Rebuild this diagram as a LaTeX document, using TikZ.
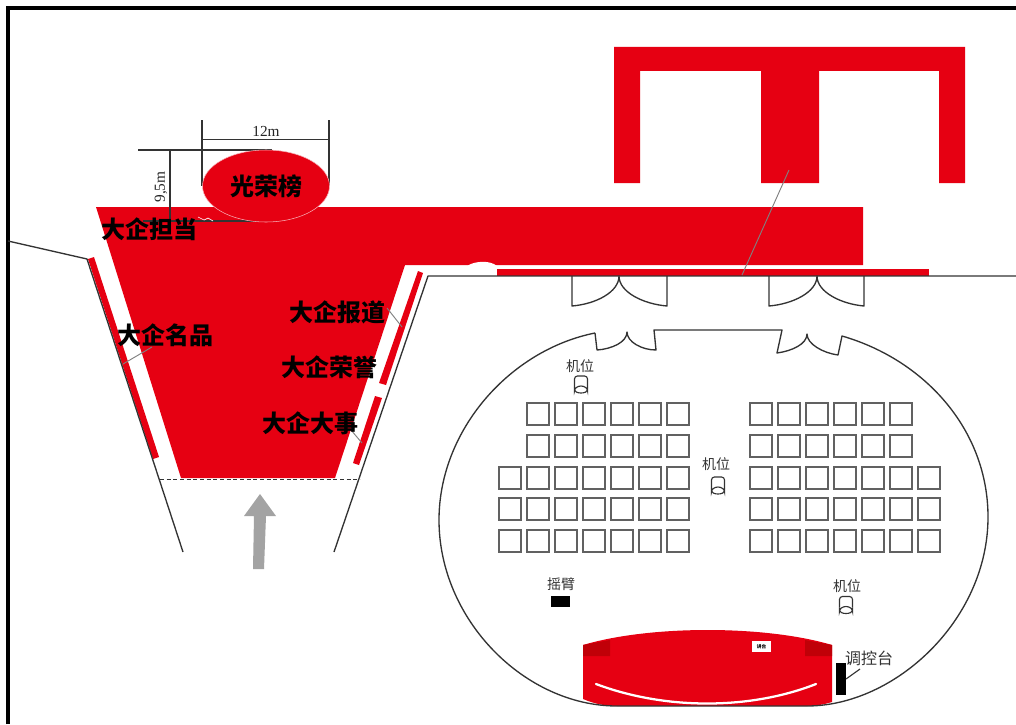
\documentclass[tikz,border=0pt]{standalone}
\usepackage{fontspec}
\setmainfont{Noto Sans CJK SC}
\definecolor{bannerred}{HTML}{E60012}
\definecolor{darkred}{HTML}{C00008}
\tikzset{
  redfill/.style={fill=bannerred,draw=none},
  wall/.style={draw=black!80,line width=1pt,line join=round},
  seat/.style={draw=black!62,line width=1pt,fill=white},
  leader/.style={draw=black!50,line width=0.7pt},
  dim/.style={draw=black!80,line width=0.85pt},
  biglabel/.style={font=\fontsize{18}{18}\selectfont\bfseries,text=black,inner sep=0pt},
  smalllabel/.style={font=\fontsize{10.5}{11}\selectfont,text=black!80,inner sep=0pt},
  dimlabel/.style={font=\fontsize{11.5}{12}\selectfont,text=black!85,inner sep=0pt},
  camera/.pic={
    \draw[draw=black!80,line width=0.85pt,fill=white,rounded corners=2.2pt] (-6.5,1) -- (-6.5,-10) -- (6.5,-10) -- (6.5,1);
    \draw[draw=black!80,line width=0.85pt] (-6.5,1) -- (-6.5,5) arc[start angle=180,end angle=360,x radius=6.5,y radius=5] -- (6.5,1);
    \draw[draw=black!80,line width=0.85pt] (-6.5,4) arc[start angle=180,end angle=0,x radius=6.5,y radius=3];
  }
}
\begin{document}
\begin{tikzpicture}[x=0.75pt,y=-0.75pt]
\useasboundingbox (0,0) rectangle (1016,724);
\fill[white] (0,0) rectangle (1016,724);
% frame
\draw[black,line width=2.6pt] (8,724) -- (8,8) -- (1016,8);
% red T structure
\fill[redfill] (614,47) -- (965,47) -- (965,183) -- (939,183) -- (939,71) -- (819,71) -- (819,183) -- (761,183) -- (761,71) -- (640,71) -- (640,183) -- (614,183) -- cycle;
% banner floor
\fill[redfill] (96,207) -- (863,207) -- (863,265) -- (405,265) -- (335,478) -- (181,478) -- cycle;
\fill[white] (468,265.5) .. controls (475,261) and (490,260) .. (497,266) -- (497,268) -- (468,268) -- cycle;
\fill[redfill] (497,268.5) rectangle (929,275.5);
% strips
\fill[redfill] (88,259) -- (94,257) -- (159,457) -- (153,459) -- cycle;
\fill[redfill] (418,271) -- (423,273) -- (386,385) -- (379,383) -- cycle;
\fill[redfill] (375,396) -- (382,398) -- (359,465) -- (353,463) -- cycle;
% walls
\draw[wall] (8,241) -- (87,259) -- (183,552);
\draw[wall] (334,552) -- (428,276) -- (1016,276);
\draw[wall,dash pattern=on 3pt off 2pt] (160,479.5) -- (360,479.5);
% honour ellipse with dimensions
\draw[dim] (202,120) -- (202,186);
\draw[dim] (329,120) -- (329,186);
\draw[dim] (202,139.5) -- (329,139.5);
\draw[dim] (138,150) -- (272,150);
\draw[dim] (170,150) -- (170,221);
\draw[dim] (143,221) -- (272,221);
\fill[bannerred,draw=white!70!bannerred,line width=0.4pt] (266,186) ellipse [x radius=63.5,y radius=36];
\draw[white,line width=0.5pt] (198,217) -- (204,220) -- (208,218) -- (213,221);
\node[dimlabel] (dimw) at (266,131) {\fontspec{Liberation Serif}12m};
\node[dimlabel,rotate=90] (dimh) at (161,187) {\fontspec{Liberation Serif}9,5m};
% leaders
\draw[leader] (789,170) -- (742,275);
\draw[leader] (123,364) -- (152,347);
\draw[leader] (387,308) -- (402,327);
\draw[leader] (351,430) -- (362,443);
% big labels
\node[biglabel] (honor) at (266,186) {光荣榜};
\node[biglabel] (duty) at (149,229) {大企担当};
\node[biglabel] (brand) at (165,335) {大企名品};
\node[biglabel] (report) at (337,312) {大企报道};
\node[biglabel] (glory) at (329,367) {大企荣誉};
\node[biglabel] (event) at (310,423) {大企大事};
% arrow
\fill[black!36] (253,569) -- (254,516) -- (244,516) -- (260,494) -- (276,516) -- (266,516) -- (264,569) -- cycle;
% upper doors
\draw[wall] (572,276) -- (572,306) .. controls (596,304) and (619,292) .. (619,276) .. controls (619,292) and (643,304) .. (667,306) -- (667,276);
\draw[wall] (769,276) -- (769,306) .. controls (793,304) and (817,292) .. (817,276) .. controls (817,292) and (841,304) .. (864,306) -- (864,276);
% stage
\fill[redfill] (583,645) .. controls (650,625) and (765,625) .. (832,645) -- (832,702) .. controls (822,705) and (815,706) .. (807,706) -- (617,706) .. controls (605,706) and (595,704) .. (583,699) -- cycle;
\fill[darkred] (583,645) -- (610,640) -- (610,656) -- (583,656) -- cycle;
\fill[darkred] (832,645) -- (805,640) -- (805,656) -- (832,656) -- cycle;
\draw[white,line width=1.7pt,line cap=round] (596,684) .. controls (665,710) and (750,710) .. (816,684);
\node[fill=white,minimum width=14.25pt,minimum height=8.25pt,inner sep=0pt,font=\fontsize{3.5}{4}\selectfont\bfseries] (lectern) at (761.5,646.5) {讲台};
% hall outline
\draw[wall] (595,333) -- (597,350) .. controls (612,349) and (627,342) .. (627,332) .. controls (627,342) and (642,350) .. (656,350) -- (654,330) -- (782,330) -- (777,353) .. controls (792,351) and (807,344) .. (807,334) .. controls (807,344) and (823,353) .. (838,355) -- (842,336)
  .. controls (925,360) and (988,430) .. (988,517) .. controls (988,620) and (895,706) .. (807,706) -- (617,706) .. controls (525,706) and (439,620) .. (439,520) .. controls (439,430) and (510,350) .. (595,333);
% seats
\foreach \y in {403,435} {
  \foreach \x in {527,555,583,611,639,667} \draw[seat] (\x,\y) rectangle ++(22,22);
  \foreach \x in {750,778,806,834,862,890} \draw[seat] (\x,\y) rectangle ++(22,22);
}
\foreach \y in {467,498,530} {
  \foreach \x in {499,527,555,583,611,639,667} \draw[seat] (\x,\y) rectangle ++(22,22);
  \foreach \x in {750,778,806,834,862,890,918} \draw[seat] (\x,\y) rectangle ++(22,22);
}
% cameras
\pic at (581,386) {camera};
\pic at (718,487) {camera};
\pic at (846,606.5) {camera};
\node[smalllabel] (cam1) at (580,366) {机位};
\node[smalllabel] (cam2) at (716,464) {机位};
\node[smalllabel] (cam3) at (847,586) {机位};
\node[smalllabel] (jib) at (561,584) {摇臂};
\fill[black] (551,596) rectangle (570,607);
% console
\fill[black] (836,663) rectangle (846,695);
\draw[draw=black!80,line width=0.85pt] (846,679) -- (860,669);
\node[smalllabel,font=\fontsize{12}{12}\selectfont] (console) at (869,658) {调控台};
\end{tikzpicture}
\end{document}
